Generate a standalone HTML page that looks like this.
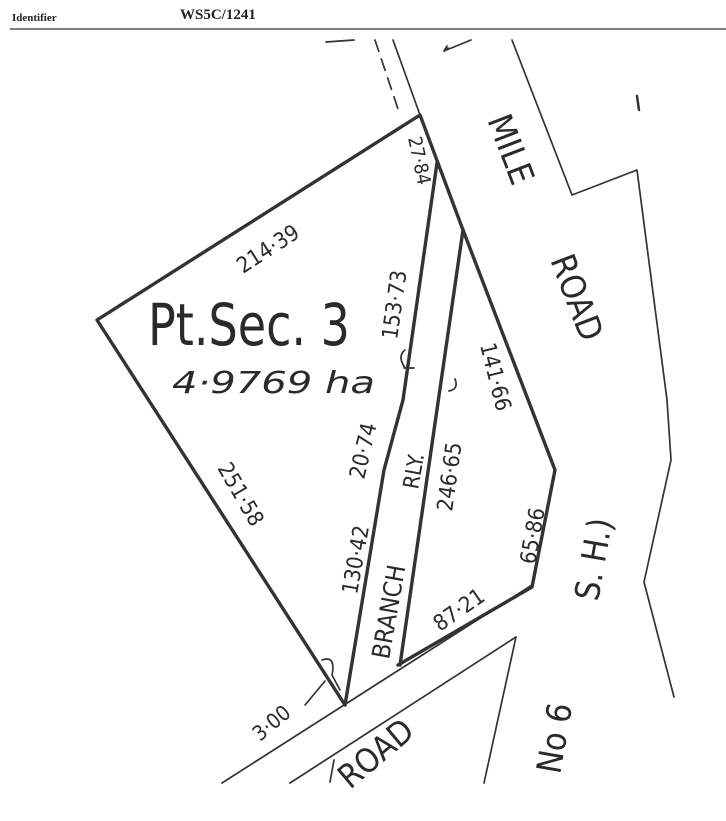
<!DOCTYPE html>
<html><head><meta charset="utf-8"><style>
html,body{margin:0;padding:0;background:#fff;width:726px;height:821px;overflow:hidden}
svg{display:block}
.t{font-family:"DejaVu Sans Condensed","DejaVu Sans","Liberation Sans",sans-serif;fill:#2a2a2a}
</style></head><body>
<svg width="726" height="821" viewBox="0 0 726 821" xmlns="http://www.w3.org/2000/svg">
<text x="12" y="21" font-family="Liberation Serif,serif" font-weight="bold" font-size="11" fill="#222">Identifier</text>
<text x="180" y="19" font-family="Liberation Serif,serif" font-weight="bold" font-size="15" fill="#222">WS5C/1241</text>
<line x1="10" y1="29" x2="726" y2="29" stroke="#333" stroke-width="1.2"/>
<g fill="none" stroke="#333" stroke-linejoin="round" stroke-linecap="round">
<g stroke-width="3.4">
<polyline points="345,705 97,320 420,115 463,230 555,470 532,587 398,665"/>
<polyline points="437,163 403,400 384,470 345,705"/>
<line x1="463" y1="230" x2="400" y2="665"/>
</g>
<g stroke-width="1.7">
<line x1="393" y1="40" x2="420" y2="115"/>
<line x1="375" y1="40" x2="400" y2="115" stroke-dasharray="12,8"/>
<line x1="222" y1="783" x2="532" y2="585"/>
<polyline points="290,783 516,637 484,783"/>
<polyline points="512,40 572,195 637,170 667,400 671,460 644,582 674,697"/>
<line x1="326" y1="42" x2="354" y2="40"/>
<line x1="637" y1="96" x2="639" y2="110" stroke-width="2.5"/>
<polyline points="448,48 444,51 447,46"/>
<line x1="444" y1="51" x2="471" y2="40"/>
<path d="M305,705 l20,-24 M322,660 q14,-5 10,15 l8,15"/>
<path d="M405,368 q-8,-12 0,-18 M404,368 l10,0"/>
<path d="M455,379 q4,10 -6,12"/>
<line x1="330" y1="782" x2="334" y2="760"/>
</g>
</g>
<g class="t">
<text class="t" font-size="58" x="148" y="345" textLength="202" lengthAdjust="spacingAndGlyphs">Pt.Sec. 3</text>
<text class="t" font-size="30" font-style="italic" x="172" y="393" textLength="203" lengthAdjust="spacingAndGlyphs">4·9769 ha</text>
<text font-size="22" transform="translate(243,274) rotate(-33)">214·39</text>
<text font-size="19" transform="translate(408,138) rotate(78)">27·84</text>
<text font-size="22" transform="translate(397,340) rotate(-82)">153·73</text>
<text font-size="34" transform="translate(487,120) rotate(69)">MILE</text>
<text font-size="34" transform="translate(550,260) rotate(69)">ROAD</text>
<text font-size="22" transform="translate(480,345) rotate(76)">141·66</text>
<text font-size="22" transform="translate(452,512) rotate(-82)">246·65</text>
<text font-size="22" transform="translate(364,480) rotate(-77)">20·74</text>
<text font-size="22" transform="translate(418,490) rotate(-80)">RLY.</text>
<text font-size="22" transform="translate(357,595) rotate(-80)">130·42</text>
<text font-size="25" transform="translate(389,660) rotate(-80)">BRANCH</text>
<text font-size="22" transform="translate(217,468) rotate(60)">251·58</text>
<text font-size="22" transform="translate(535,565) rotate(-80)">65·86</text>
<text font-size="22" transform="translate(440,632) rotate(-35)">87·21</text>
<text font-size="21" transform="translate(260,742) rotate(-40)">3·00</text>
<text font-size="33" transform="translate(350,790) rotate(-40)">ROAD</text>
<text font-size="34" transform="translate(598,602) rotate(-80)">S. H.)</text>
<text font-size="34" transform="translate(560,775) rotate(-80)">No 6</text>
</g>
</svg>
</body></html>
